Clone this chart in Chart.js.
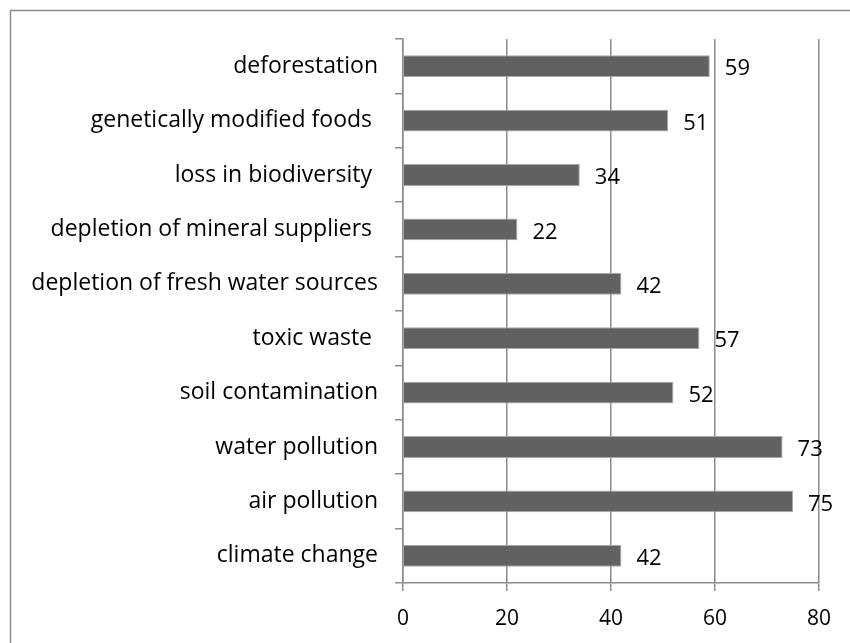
<!DOCTYPE html>
<html>
<head>
<meta charset="utf-8">
<script src="https://cdn.jsdelivr.net/npm/chart.js@4"></script>
<style>
  html, body { margin: 0; padding: 0; background: #fff; }
  #wrap { width: 850px; height: 643px; position: relative; }
</style>
</head>
<body>
<div id="wrap"><canvas id="chart" width="850" height="643"></canvas></div>
<script>
// survey: environmental problems (top to bottom as shown)
const categories = [
  'deforestation',
  'genetically modified foods ',
  'loss in biodiversity ',
  'depletion of mineral suppliers ',
  'depletion of fresh water sources',
  'toxic waste ',
  'soil contamination',
  'water pollution',
  'air pollution',
  'climate change'
];
const values = [59, 51, 34, 22, 42, 57, 52, 73, 75, 42];
const xTicks = [0, 20, 40, 60, 80];

const FONT = 'Open Sans';
const lineColor = '#8c8c8c';

// outer frame (only left and top edges are visible in the picture)
const framePlugin = {
  id: 'frame',
  beforeDraw(chart) {
    const ctx = chart.ctx;
    ctx.save();
    ctx.strokeStyle = '#8c8c8c';
    ctx.lineWidth = 1.5;
    ctx.beginPath();
    ctx.moveTo(10.5, 643);
    ctx.lineTo(10.5, 10.5);
    ctx.lineTo(850, 10.5);
    ctx.stroke();
    ctx.restore();
  }
};

// value labels to the right of each bar
const valueLabels = {
  id: 'valueLabels',
  afterDatasetsDraw(chart) {
    const ctx = chart.ctx;
    const meta = chart.getDatasetMeta(0);
    ctx.save();
    ctx.fillStyle = '#000';
    ctx.font = '22px "' + FONT + '"';
    ctx.textAlign = 'left';
    ctx.textBaseline = 'middle';
    meta.data.forEach((bar, i) => {
      ctx.fillText(String(values[i]), bar.x + 15, bar.y + 3);
    });
    ctx.restore();
  }
};

new Chart(document.getElementById('chart'), {
  type: 'bar',
  data: {
    labels: categories,
    datasets: [{
      data: values,
      backgroundColor: '#616161',
      borderColor: '#a8a8a8',
      borderWidth: 1,
      barPercentage: 0.4,
      categoryPercentage: 1
    }]
  },
  options: {
    indexAxis: 'y',
    responsive: false,
    animation: false,
    layout: { padding: { left: 0, top: 39, right: 31, bottom: 0 } },
    plugins: {
      legend: { display: false },
      tooltip: { enabled: false }
    },
    scales: {
      x: {
        min: 0,
        max: 80,
        afterBuildTicks: (scale) => { scale.ticks = xTicks.map(v => ({ value: v })); },
        afterFit: (scale) => { scale.height = 60; },
        grid: { color: lineColor, lineWidth: 1.5, tickLength: 8 },
        border: { color: lineColor, width: 1.5 },
        ticks: { color: '#000', padding: 15, font: { family: FONT, size: 21 } }
      },
      y: {
        afterFit: (scale) => { scale.width = 403; },
        grid: { color: lineColor, lineWidth: 1.5, tickLength: 8, drawOnChartArea: false, offset: true },
        border: { color: lineColor, width: 1.5 },
        ticks: { color: '#000', padding: 17, autoSkip: false, font: { family: FONT, size: 23 } }
      }
    }
  },
  plugins: [framePlugin, valueLabels]
});
</script>
</body>
</html>
